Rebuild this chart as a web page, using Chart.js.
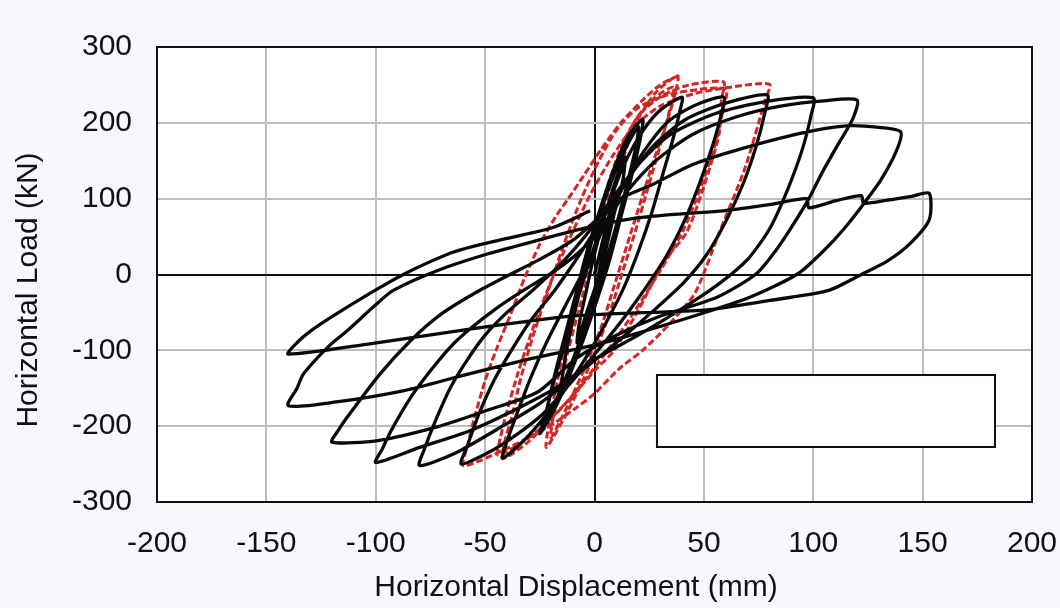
<!DOCTYPE html>
<html><head><meta charset="utf-8">
<script src="https://cdn.jsdelivr.net/npm/chart.js@4.4.1/dist/chart.umd.min.js"></script>
<style>html,body{margin:0;padding:0;background:#f6f8fd;overflow:hidden}#wrap{width:1060px;height:608px}</style>
</head><body><div id="wrap"><canvas id="c" width="1060" height="608"></canvas></div>
<script>
const xTicks = [-200,-150,-100,-50,0,50,100,150,200];
const yTicks = [-300,-200,-100,0,100,200,300];
const xTitle = 'Horizontal Displacement (mm)';
const yTitle = 'Horizontal Load (kN)';

// Black specimen: displacement (mm), load (kN), in loading order
const blackCurve = [
[0,0],[3,35],[6,70],[8,95],
[7,70],[4,30],[1,-10],[-3,-45],[-6,-72],[-8,-90],
[-7,-65],[-4,-25],[-1,15],[3,60],[7,100],[11,135],[14,155],
[13,125],[9,80],[5,30],[1,-20],[-4,-70],[-9,-110],[-13,-138],[-15,-150],
[-14,-120],[-11,-75],[-7,-25],[-3,25],[2,75],[8,125],[14,165],[20,195],
[19,170],[15,120],[10,65],[5,15],[-1,-40],[-7,-90],[-13,-135],[-19,-175],[-24,-205],
[-22,-180],[-18,-130],[-13,-75],[-8,-20],[-3,35],[3,90],[9,140],[15,180],[22,205],
[21,180],[17,130],[12,75],[7,20],[1,-35],[-5,-85],[-11,-130],[-17,-170],[-25,-210],
[-22,-180],[-18,-135],[-13,-85],[-8,-35],[-2,20],[5,80],[12,135],[20,180],[29,214],[40,234],
[39,215],[36,180],[31,130],[26,80],[20,30],[13,-20],[5,-65],[-4,-110],[-13,-150],[-22,-185],[-32,-218],[-42,-242],
[-40,-220],[-35,-180],[-29,-135],[-22,-90],[-14,-45],[-5,5],[4,60],[13,115],[22,160],[33,200],[45,222],[59,234],
[58,212],[54,170],[48,120],[41,70],[33,25],[24,-15],[14,-55],[3,-95],[-10,-140],[-24,-185],[-40,-220],[-52,-240],[-61,-250],
[-58,-225],[-53,-185],[-46,-140],[-38,-100],[-29,-60],[-18,-20],[-6,30],[5,80],[15,125],[27,170],[42,205],[60,226],[79,237],
[78,215],[74,170],[68,120],[60,70],[51,25],[41,-10],[28,-45],[12,-85],[-5,-125],[-25,-170],[-45,-205],[-64,-236],[-80,-252],
[-78,-232],[-73,-195],[-66,-150],[-58,-112],[-50,-80],[-40,-50],[-28,-20],[-15,15],[-3,55],[8,100],[20,145],[35,185],[55,212],[78,228],[100,233],
[99,210],[95,165],[88,110],[80,60],[70,20],[57,-12],[40,-45],[20,-80],[0,-112],[-15,-145],[-34,-175],[-57,-206],[-80,-228],[-100,-248],
[-97,-230],[-93,-206],[-84,-162],[-75,-127],[-66,-96],[-57,-72],[-45,-45],[-32,-20],[-18,5],[-5,35],[5,70],[15,110],[28,150],[45,185],[65,208],[85,222],[105,229],[120,230],
[118,205],[111,170],[104,134],[98,100],[90,62],[83,32],[74,1],[56,-30],[29,-56],[10,-80],[-8,-110],[-26,-155],[-49,-179],[-72,-201],[-99,-219],[-120,-221],
[-117,-205],[-113,-188],[-98,-131],[-84,-87],[-70,-52],[-55,-25],[-40,-2],[-25,20],[-10,45],[2,75],[12,100],[26,118],[45,145],[65,164],[94,186],[115,196],[130,194],[140,188],
[138,163],[131,125],[123,93],[114,60],[105,32],[93,1],[71,-30],[44,-56],[13,-83],[0,-93],[-29,-111],[-60,-133],[-87,-153],[-118,-168],[-140,-173],
[-136,-150],[-133,-131],[-122,-96],[-113,-74],[-100,-40],[-92,-21],[-72,5],[-49,27],[-26,45],[-3,62],[18,74],[40,80],[59,84],[80,92],[97,100],[98,88],[110,97],[122,104],[123,94],[134,98],[145,103],[153,107],
[153,72],[144,40],[134,18],[122,0],[107,-21],[90,-30],[76,-36],[50,-47],[15,-51],[-11,-55],[-57,-72],[-102,-91],[-140,-105],
[-136,-90],[-130,-75],[-118,-52],[-98,-17],[-84,5],[-64,30],[-41,47],[-19,62],[-2,84]
];

// Red specimen (dashed): displacement (mm), load (kN)
const redCurve = [
[0,0],[5,60],[10,120],[15,170],[20,205],[28,240],[38,262],
[37,240],[33,200],[27,150],[21,95],[15,40],[9,-15],[3,-70],[-4,-120],[-11,-165],[-16,-195],[-20,-215],
[-19,-190],[-16,-150],[-12,-100],[-7,-45],[-2,10],[3,70],[8,125],[13,170],[19,205],[27,232],[36,247],
[35,225],[31,180],[25,120],[19,60],[13,5],[7,-50],[0,-105],[-7,-150],[-14,-190],[-22,-228],
[-21,-200],[-18,-155],[-14,-100],[-9,-40],[-4,20],[2,80],[8,135],[14,180],[21,212],[30,234],[42,249],[59,254],
[58,230],[57,186],[50,116],[42,55],[32,18],[20,-47],[9,-100],[0,-127],[-10,-160],[-20,-190],[-30,-220],[-42,-243],
[-41,-220],[-38,-190],[-34,-140],[-28,-80],[-21,-20],[-14,40],[-6,100],[2,150],[10,190],[20,220],[35,238],[60,245],
[59,220],[55,170],[48,110],[40,55],[30,5],[18,-50],[6,-100],[-6,-145],[-18,-185],[-30,-215],[-44,-238],
[-43,-215],[-40,-180],[-35,-130],[-28,-70],[-20,-10],[-11,50],[-2,105],[8,155],[18,195],[30,222],[45,238],[62,247],[80,251],
[78,230],[69,142],[57,55],[46,-24],[34,-66],[22,-100],[11,-125],[0,-157],[-8,-175],[-19,-197],[-30,-215],[-42,-232],[-52,-245],[-60,-252],
[-58,-225],[-55,-190],[-50,-140],[-45,-100],[-38,-50],[-32,-5],[-25,40],[-18,75],[-12,100],[-5,130],[3,165],[12,200],[22,230],[30,250],[38,262]
];

const FONT = "'Liberation Sans', Arial, Helvetica, sans-serif";
const toPts = a => a.map(p => ({x: p[0], y: p[1]}));

const framePlugin = {
  id: 'frame',
  beforeDraw(chart) {
    const {ctx, chartArea: a} = chart;
    ctx.save();
    ctx.fillStyle = '#f6f8fd';
    ctx.fillRect(0, 0, chart.width, chart.height);
    ctx.fillStyle = '#ffffff';
    ctx.fillRect(a.left, a.top, a.right - a.left, a.bottom - a.top);
    ctx.restore();
  },
  beforeDatasetsDraw(chart) {
    const {ctx, chartArea: a} = chart;
    const w = a.right - a.left, h = a.bottom - a.top;
    const l = a.left + w * 0.5714, r = a.left + w * 0.9577;
    const t = a.top + h * 0.7209, b = a.top + h * 0.8791;
    ctx.save();
    ctx.fillStyle = '#ffffff';
    ctx.fillRect(l, t, r - l, b - t);
    ctx.strokeStyle = '#111';
    ctx.lineWidth = 2;
    ctx.strokeRect(l, t, r - l, b - t);
    ctx.restore();
  },
  afterDraw(chart) {
    const {ctx, chartArea: a} = chart;
    ctx.save();
    ctx.strokeStyle = '#111';
    ctx.lineWidth = 2;
    ctx.strokeRect(a.left, a.top, a.right - a.left, a.bottom - a.top);
    ctx.fillStyle = '#111';
    ctx.font = '30px ' + FONT;
    ctx.textAlign = 'center';
    ctx.textBaseline = 'middle';
    ctx.fillText(xTitle, 576, 588);
    ctx.translate(29, 290);
    ctx.rotate(-Math.PI / 2);
    ctx.fillText(yTitle, 0, 0);
    ctx.restore();
  }
};

const gridColor = c => (c.tick && c.tick.value === 0) ? '#111111' : '#bdbdbd';

new Chart(document.getElementById('c'), {
  type: 'scatter',
  data: {
    datasets: [
      {data: toPts(blackCurve), showLine: true, borderColor: '#0a0a0a', borderWidth: 3.3, pointRadius: 0, tension: 0.25, fill: false},
      {data: toPts(redCurve), showLine: true, borderColor: '#d42626', borderWidth: 3, borderDash: [7, 3], pointRadius: 0, tension: 0.25, fill: false}
    ]
  },
  options: {
    responsive: false,
    animation: false,
    devicePixelRatio: 1,
    layout: {padding: {top: 47, right: 28, left: 0, bottom: 0}},
    plugins: {legend: {display: false}, tooltip: {enabled: false}},
    scales: {
      x: {
        type: 'linear', min: -200, max: 200,
        afterBuildTicks: s => { s.ticks = xTicks.map(v => ({value: v})); },
        afterFit: s => { s.height = 106; s.paddingLeft = 0; s.paddingRight = 0; },
        border: {display: false},
        grid: {color: gridColor, lineWidth: 2, drawTicks: false},
        ticks: {color: '#111', font: {family: FONT, size: 30}, padding: 24, maxRotation: 0}
      },
      y: {
        type: 'linear', min: -300, max: 300,
        afterBuildTicks: s => { s.ticks = yTicks.map(v => ({value: v})); },
        afterFit: s => { s.width = 157; s.paddingTop = 0; s.paddingBottom = 0; },
        border: {display: false},
        grid: {color: gridColor, lineWidth: 2, drawTicks: false},
        ticks: {color: '#111', font: {family: FONT, size: 30}, padding: 25}
      }
    }
  },
  plugins: [framePlugin]
});
</script>
</body></html>
